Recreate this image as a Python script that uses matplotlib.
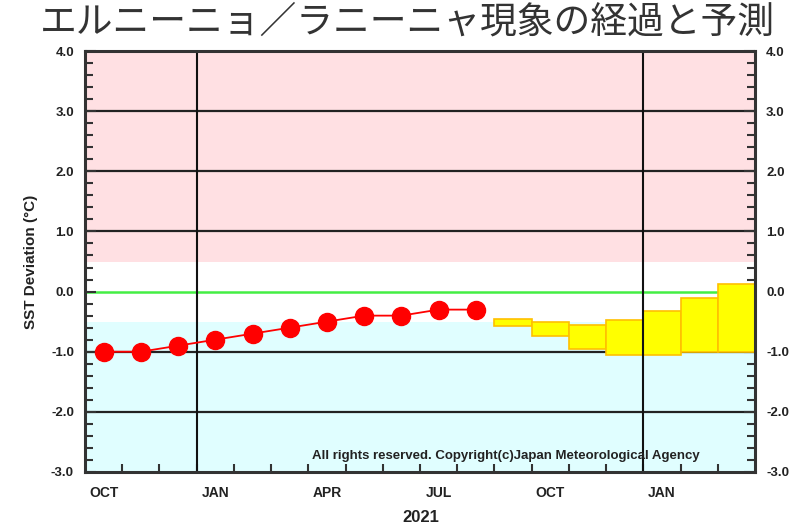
import matplotlib
matplotlib.use("Agg")
import matplotlib.pyplot as plt
from matplotlib.patches import Rectangle
import numpy as np

# Data
obs_months = np.arange(11)            # Oct 2020 .. Aug 2021 (month index)
obs_values = [-1.0, -1.0, -0.9, -0.8, -0.7, -0.6, -0.5, -0.4, -0.4, -0.3, -0.3]
fc_months = [11, 12, 13, 14, 15, 16, 17]   # Sep 2021 .. Mar 2022
fc_low = [-0.58, -0.74, -0.95, -1.06, -1.06, -1.01, -1.01]
fc_high = [-0.45, -0.50, -0.55, -0.48, -0.32, -0.10, 0.13]
month_labels = ["OCT", "JAN", "APR", "JUL", "OCT", "JAN"]
month_label_idx = [0, 3, 6, 9, 12, 15]
year_label = "2021"
title = "エルニーニョ／ラニーニャ現象の経過と予測"
ylabel = "SST Deviation (°C)"
copyright_text = "All rights reserved. Copyright(c)Japan Meteorological Agency"

plt.rcParams['font.family'] = ['Liberation Sans', 'DejaVu Sans']

fig = plt.figure(figsize=(7.93, 5.28), dpi=100)
ax = fig.add_axes([85/793, 56/528, 670/793, 421/528])
ax.set_xlim(0, 18)
ax.set_ylim(-3, 4)

# background bands
ax.axhspan(0.5, 4.0, color='#ffe0e3', zorder=0, lw=0)
ax.axhspan(-3.0, -0.5, color='#e0feff', zorder=0, lw=0)

# grid lines
for yv in [3, 2, 1, -1, -2]:
    ax.axhline(yv, color='#222222', lw=1.6, zorder=1)
ax.axhline(0, color='#44ee44', lw=1.8, zorder=1)
for xv in [3, 15]:
    ax.axvline(xv, color='#111111', lw=1.5, zorder=4)

# forecast boxes
for m, lo, hi in zip(fc_months, fc_low, fc_high):
    ax.add_patch(Rectangle((m, lo), 1, hi - lo, facecolor='#ffff00',
                           edgecolor='#ffc000', lw=1.2, zorder=2))

# observations
ax.plot(obs_months + 0.5, obs_values, color='#ff0000', lw=1.3, marker='o',
        markersize=13, markerfacecolor='#ff0000', markeredgecolor='#ff0000', zorder=5)

# ticks
ax.set_yticks(np.arange(-3, 4.01, 1.0))
ax.set_yticklabels([f"{v:.1f}" for v in np.arange(-3, 4.01, 1.0)])
ax.set_yticks(np.arange(-3, 4.01, 0.2), minor=True)
ax.tick_params(axis='y', which='both', direction='in', left=True, right=True,
               labelleft=True, labelright=True, width=1.5, color='#333333')
ax.tick_params(axis='y', which='major', length=8, labelsize=9.5, pad=8)
ax.tick_params(axis='y', which='minor', length=6)
for lab in ax.get_yticklabels():
    lab.set_fontweight('bold')
    lab.set_color('#222222')

ax.set_xticks(np.arange(1, 18, 1), minor=True)
ax.set_xticks(np.array(month_label_idx) + 0.5)
ax.set_xticklabels(month_labels, fontweight='bold', fontsize=10, color='#222222')
ax.tick_params(axis='x', which='major', length=0, pad=10)
ax.tick_params(axis='x', which='minor', direction='in', length=6, width=1.5, color='#333333')

for s in ax.spines.values():
    s.set_linewidth(2.2)
    s.set_color('#333333')
    s.set_zorder(6)

ax.set_ylabel(ylabel, fontweight='bold', fontsize=11, labelpad=9, color='#222222')
fig.text(421/793, 1 - 517/528, year_label, ha='center', va='center',
         fontweight='bold', fontsize=12, color='#222222')
ax.text(0.628, 0.037, copyright_text, transform=ax.transAxes, ha='center', va='center',
        fontsize=9.5, fontweight='bold', color='#222222', zorder=7)

fig.text(407/793, 1 - 22/528, title, ha='center', va='center', fontsize=26.5,
         family=['Noto Sans CJK JP', 'DejaVu Sans'], color='#333333')

fig.savefig("out.png", dpi=100)
